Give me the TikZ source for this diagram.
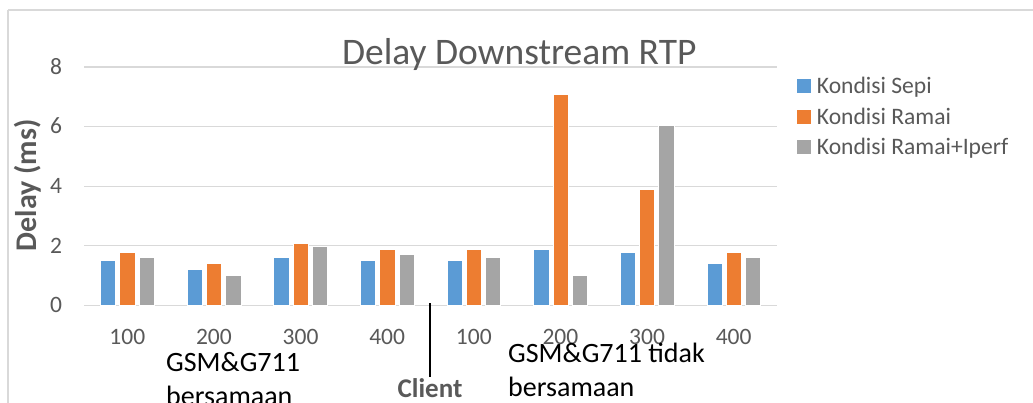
\documentclass[tikz,border=0pt]{standalone}
\usepackage{fontspec}
\setmainfont{Carlito}
\definecolor{sepi}{HTML}{5B9BD5}
\definecolor{ramai}{HTML}{ED7D31}
\definecolor{iperf}{HTML}{A5A5A5}
\definecolor{gridc}{HTML}{D9D9D9}
\definecolor{txt}{HTML}{595959}
\begin{document}
\begin{tikzpicture}[x=1pt,y=-1pt,
  gridline/.style={draw=gridc, line width=1.3pt},
  framel/.style={draw=gridc, line width=1.3pt},
  ticklabel/.style={font=\fontsize{23.5}{27}\selectfont, text=txt, anchor=base, inner sep=0pt},
  legendtext/.style={font=\fontsize{23.6}{27}\selectfont, text=txt, anchor=base west, inner sep=0pt},
  titletext/.style={font=\fontsize{37.5}{42}\selectfont, text=txt, anchor=base, inner sep=0pt},
  axistitle/.style={font=\bfseries\fontsize{30}{34}\selectfont, text=txt, inner sep=0pt, rotate=90},
  note/.style={font=\fontsize{28}{34}\selectfont, text=black, anchor=base west, inner sep=0pt, align=left},
  clientlabel/.style={font=\bfseries\fontsize{27}{30}\selectfont, text=txt, anchor=base, inner sep=0pt},
  bar/.style={draw=white, line width=0.5pt}]
\useasboundingbox (0,0) rectangle (1033,403);
\fill[white] (0,0) rectangle (1033,403);

% chart frame (top and left edges)
\draw[framel] (8,10) -- (1033,10);
\draw[framel] (8,10) -- (8,403);

% horizontal gridlines and value labels
\foreach \v in {0,2,4,6,8} {
  \draw[gridline] (84,{305.4-29.8*\v}) -- (777,{305.4-29.8*\v});
  \node[ticklabel] (y\v) at (56,{305.4-29.8*\v+7.4}) {\v};
}

% bars: Sepi / Ramai / Ramai+Iperf per category
\foreach \a/\b/\c/\lab [count=\i] in {1.5/1.8/1.6/100, 1.2/1.4/1.0/200, 1.6/2.1/2.0/300, 1.5/1.9/1.7/400,
                                   1.5/1.9/1.6/100, 1.9/7.1/1.0/200, 1.8/3.9/6.05/300, 1.4/1.8/1.6/400} {
  \pgfmathsetmacro\cx{84+86.625*(\i-0.5)}
  \filldraw[bar, fill=sepi]  ({\cx-26.9},305.4) rectangle ({\cx-11.6},{305.4-29.8*\a});
  \filldraw[bar, fill=ramai] ({\cx-7.65},305.4) rectangle ({\cx+7.65},{305.4-29.8*\b});
  \filldraw[bar, fill=iperf] ({\cx+11.6},305.4) rectangle ({\cx+26.9},{305.4-29.8*\c});
  \node[ticklabel] (x\i) at (\cx,344) {\lab};
}

% title and axis title
\node[titletext] (title) at (519.2,65) {Delay Downstream RTP};
\node[axistitle] (ytitle) at (28,185.5) {Delay (ms)};

% legend
\fill[sepi]  (797,79.2) rectangle (810.7,92.9);
\node[legendtext] (lsepi) at (816.7,93.4) {Kondisi Sepi};
\fill[ramai] (797,109.9) rectangle (810.7,123.6);
\node[legendtext] (lramai) at (816.7,124.1) {Kondisi Ramai};
\fill[iperf] (797,140.5) rectangle (810.7,154.2);
\node[legendtext] (liperf) at (816.7,154.7) {Kondisi Ramai+Iperf};

% group annotations
\node[note] (gsame) at (166,371.7) {GSM\&G711};
\node[note] (gsame2) at (166,405.7) {bersamaan};
\node[note] (gdiff) at (508,362.7) {GSM\&G711 tidak};
\node[note] (gdiff2) at (508,396.7) {bersamaan};

% client divider
\node[clientlabel] (client) at (430,397) {Client};
\coordinate (divtop) at (430,303);
\draw[black, line width=1.2pt] (divtop) -- (client.north |- 0,377);
\end{tikzpicture}
\end{document}
